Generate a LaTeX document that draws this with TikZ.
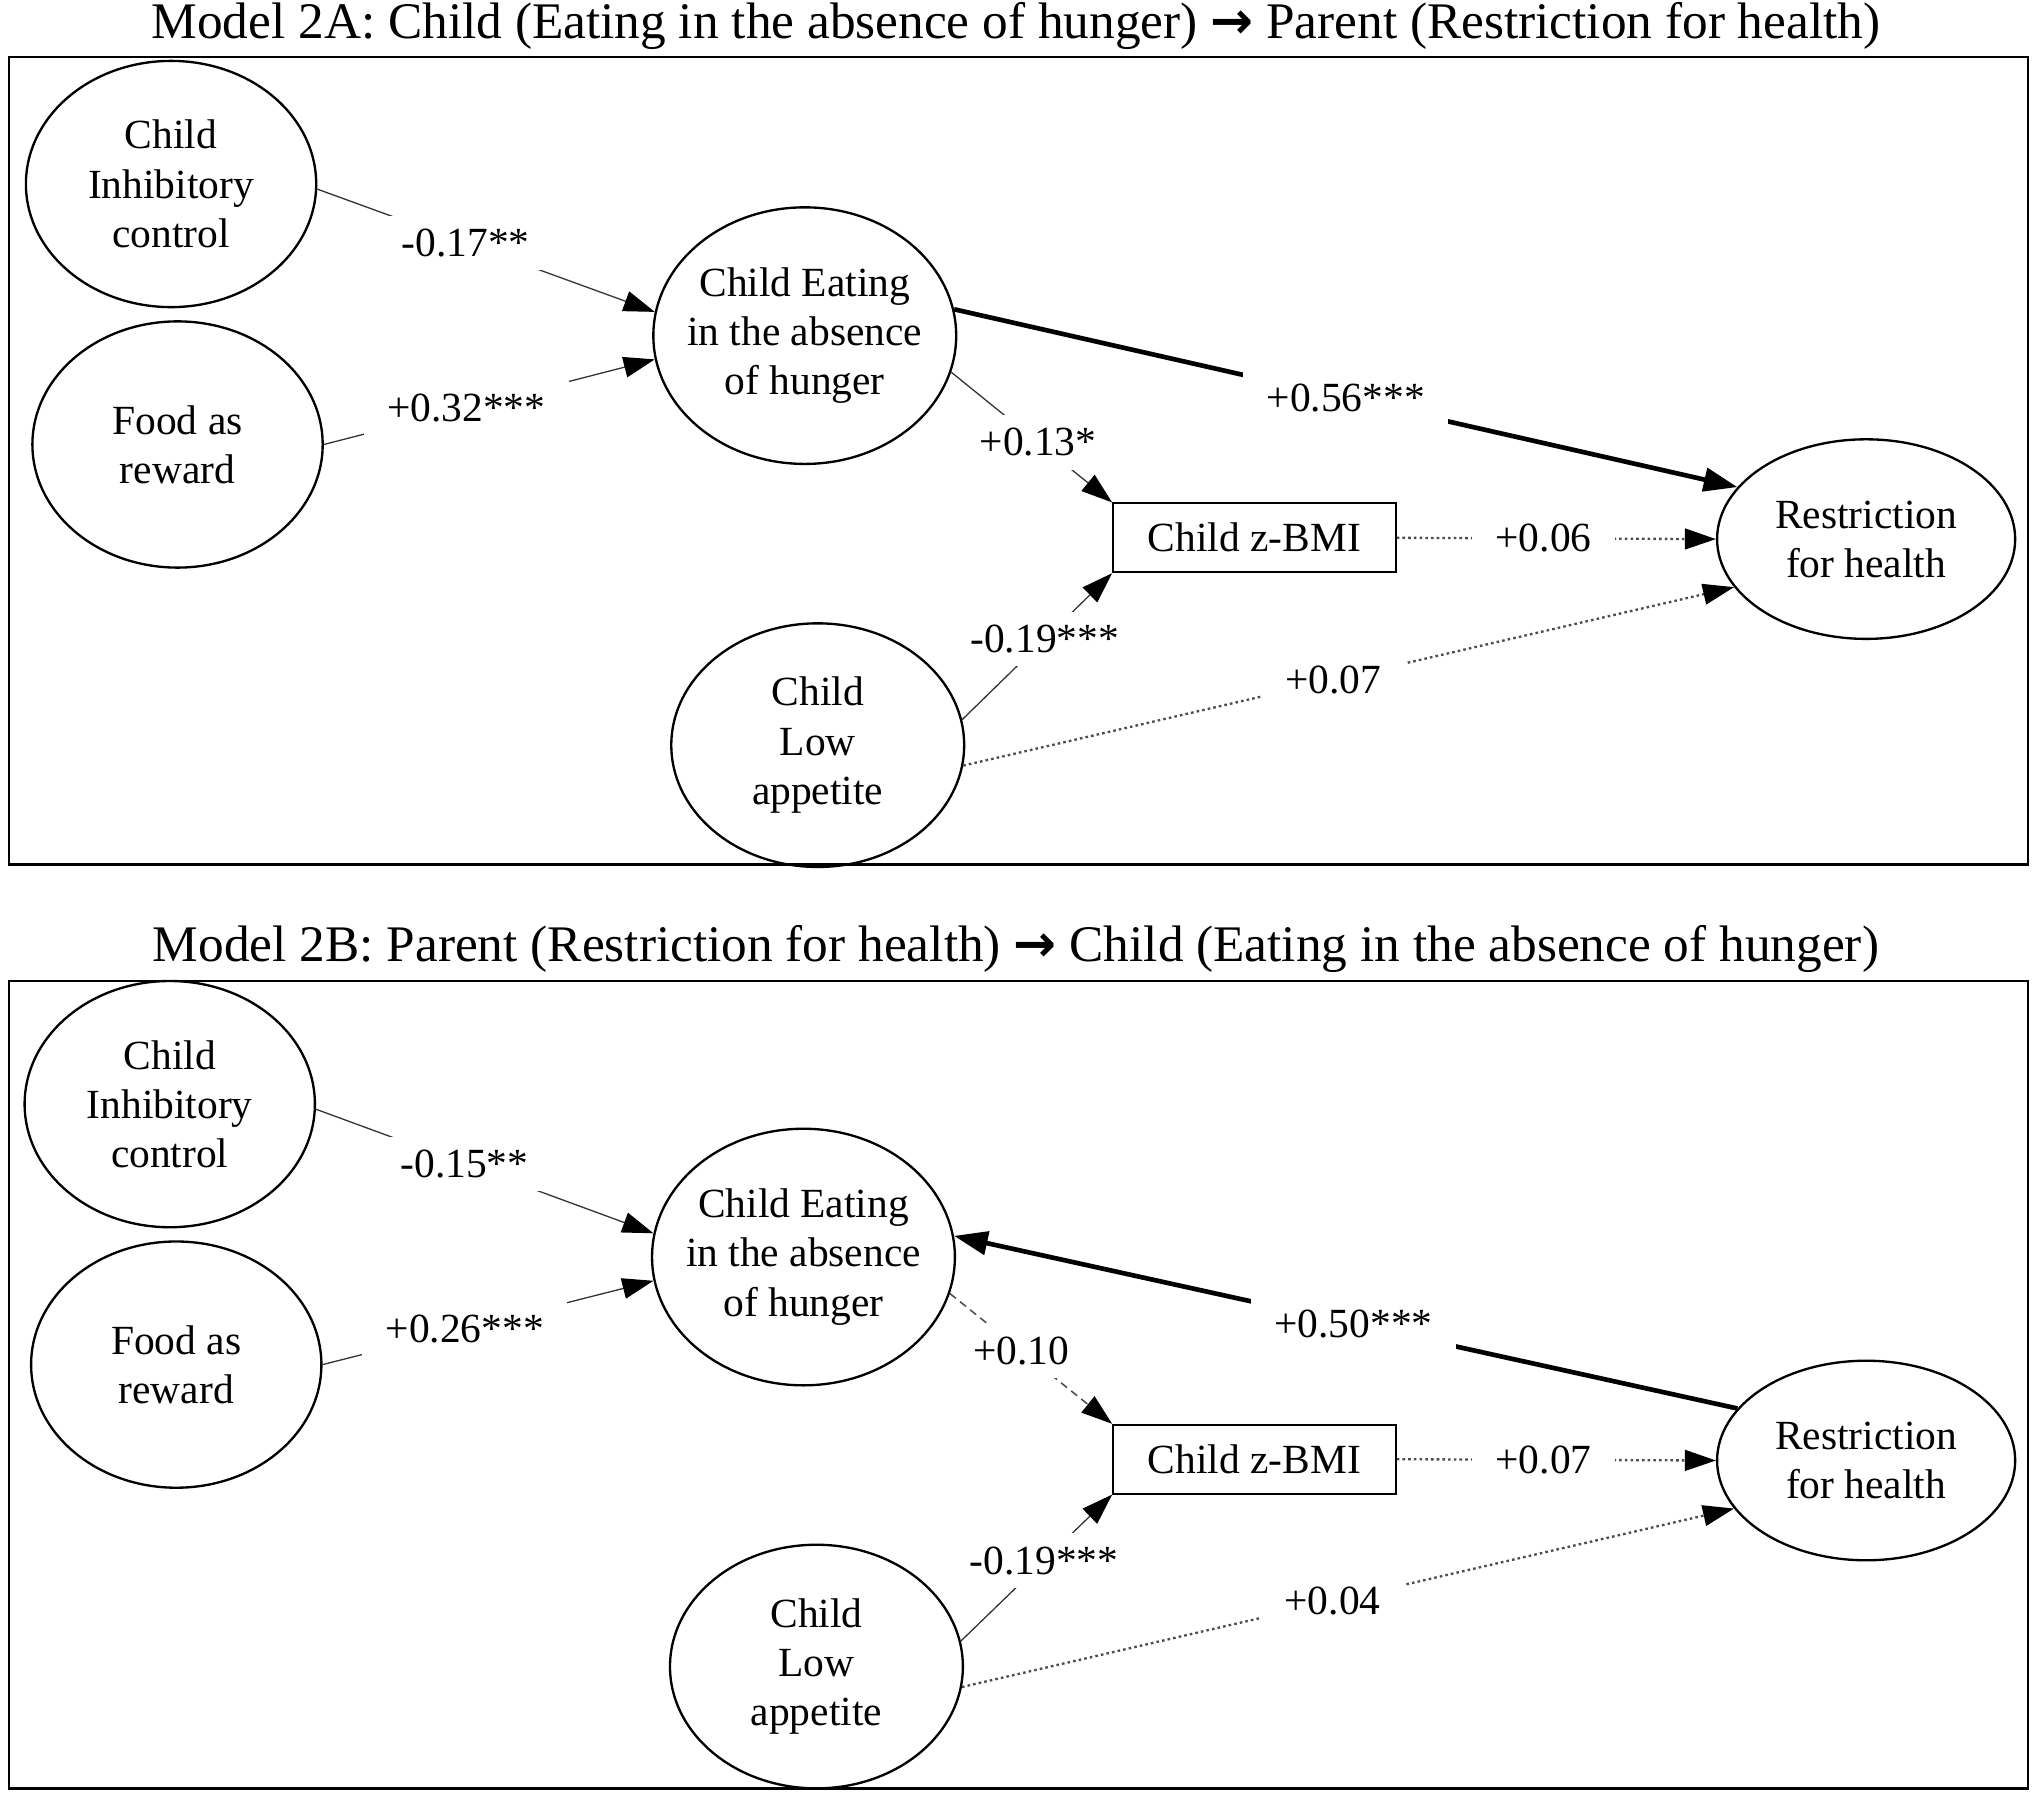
\documentclass[tikz,border=0pt]{standalone}
\usepackage{fontspec}
\setmainfont{Liberation Serif}
\newfontfamily\arrowfont{DejaVu Sans}
\usetikzlibrary{shapes.geometric, arrows.meta}

\begin{document}
\begin{tikzpicture}[x=0.5pt, y=-0.5pt,
    latent/.style={draw, ellipse, line width=0.9pt, align=center, inner ysep=0pt, inner xsep=-4pt, font=\fontsize{16}{19}\selectfont},
    observed/.style={draw, rectangle, line width=0.8pt, minimum width=109pt, minimum height=26.5pt, font=\fontsize{16}{19}\selectfont},
    path/.style={draw=black!80, line width=0.5pt, -{Triangle[length=12pt,width=8pt,color=black]}},
    strong/.style={draw=black, line width=1.8pt, -{Triangle[length=13pt,width=9pt]}},
    ns/.style={draw=black!70, line width=0.9pt, dash pattern=on 1pt off 1.2pt, -{Triangle[length=12pt,width=8pt,color=black]}},
    nsdash/.style={draw=black!70, line width=0.6pt, dash pattern=on 3pt off 2pt, -{Triangle[length=12pt,width=8pt,color=black]}},
    coef/.style={fill=white, inner xsep=9pt, inner ysep=5pt, font=\fontsize{16}{19}\selectfont},
    heading/.style={font=\fontsize{19.8}{23}\selectfont}]
    \useasboundingbox (0,0) rectangle (1568,1384);

    % Model 2A
    \node[heading] (titleA) at (784,20) {Model 2A: Child (Eating in the absence of hunger) {\arrowfont\bfseries →} Parent (Restriction for health)};
    \draw[line width=0.9pt] (7,44) rectangle (1565,667);
    \node[latent, minimum width=112pt, minimum height=95pt] (inhA) at (132,142) {Child\\Inhibitory\\control};
    \node[latent, minimum width=112pt, minimum height=95pt] (foodA) at (137,343) {Food as\\reward};
    \node[latent, minimum width=116pt, minimum height=99pt] (eatA) at (621,259) {Child Eating\\in the absence\\of hunger};
    \node[observed] (zbmiA) at (968,415) {Child z-BMI};
    \node[latent, minimum width=115pt, minimum height=77pt] (restA) at (1440,416) {Restriction\\for health};
    \node[latent, minimum width=113pt, minimum height=94pt] (lowA) at (631,575) {Child\\Low\\appetite};

    \draw[path] (inhA.-2) -- node[coef, pos=0.44] {-0.17**} (eatA.171);
    \draw[path] (foodA.0) -- node[coef, pos=0.43] {+0.32***} (eatA.189);
    \draw[strong] (eatA.10) -- node[coef, pos=0.5] {+0.56***} (restA.158);
    \draw[path] (eatA.-14) -- node[coef, pos=0.54] {+0.13*} (zbmiA.north west);
    \draw[path] (lowA.10) -- node[coef, pos=0.55] {-0.19***} (zbmiA.south west);
    \draw[ns] (zbmiA.east) -- node[coef, pos=0.46] {+0.06} (restA.west);
    \draw[ns] (lowA.-8) -- node[coef, pos=0.48] {+0.07} (restA.200);

    % Model 2B
    \node[heading] (titleB) at (784,732) {Model 2B: Parent (Restriction for health) {\arrowfont\bfseries →} Child (Eating in the absence of hunger)};
    \draw[line width=0.9pt] (7,757) rectangle (1565,1380);
    \node[latent, minimum width=112pt, minimum height=95pt] (inhB) at (131,852) {Child\\Inhibitory\\control};
    \node[latent, minimum width=112pt, minimum height=95pt] (foodB) at (136,1053) {Food as\\reward};
    \node[latent, minimum width=116pt, minimum height=99pt] (eatB) at (620,970) {Child Eating\\in the absence\\of hunger};
    \node[observed] (zbmiB) at (968,1126) {Child z-BMI};
    \node[latent, minimum width=115pt, minimum height=77pt] (restB) at (1440,1127) {Restriction\\for health};
    \node[latent, minimum width=113pt, minimum height=94pt] (lowB) at (630,1286) {Child\\Low\\appetite};

    \draw[path] (inhB.-2) -- node[coef, pos=0.44] {-0.15**} (eatB.171);
    \draw[path] (foodB.0) -- node[coef, pos=0.43] {+0.26***} (eatB.189);
    \draw[strong] (restB.158) -- node[coef, pos=0.49] {+0.50***} (eatB.8);
    \draw[nsdash] (eatB.-14) -- node[coef, pos=0.44] {+0.10} (zbmiB.north west);
    \draw[path] (lowB.10) -- node[coef, pos=0.55] {-0.19***} (zbmiB.south west);
    \draw[ns] (zbmiB.east) -- node[coef, pos=0.46] {+0.07} (restB.west);
    \draw[ns] (lowB.-8) -- node[coef, pos=0.48] {+0.04} (restB.200);
\end{tikzpicture}
\end{document}
